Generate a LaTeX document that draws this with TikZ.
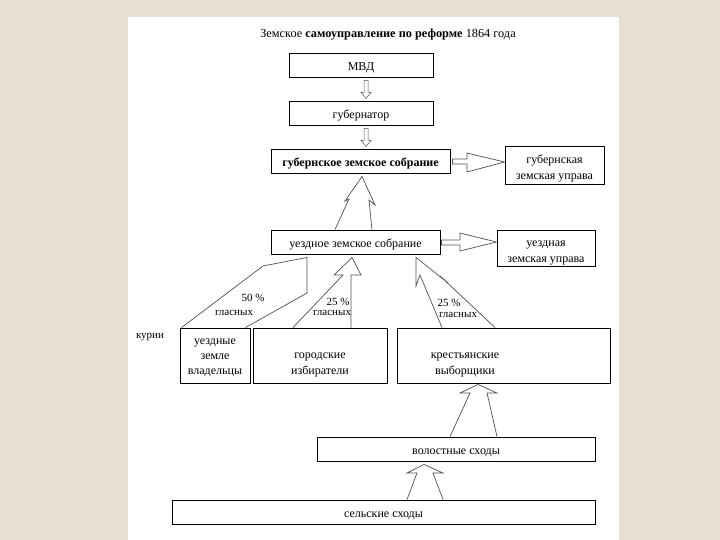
\documentclass[tikz,border=0pt]{standalone}
\usepackage{fontspec}
\setmainfont{Liberation Serif}
\usetikzlibrary{calc}
\definecolor{bgc}{HTML}{E6DFD2}
\definecolor{arr}{HTML}{505050}
\begin{document}
\begin{tikzpicture}[x=1pt,y=-1pt,
  box/.style={draw=black,line width=0.9pt,inner sep=0pt,align=center,text height=13pt,font=\fontsize{12}{16}\selectfont},
  txt/.style={inner sep=0pt,align=center,font=\fontsize{12}{16}\selectfont},
  lbl/.style={inner sep=0pt,font=\fontsize{11}{12}\selectfont},
  barrow/.style={draw=arr,line width=0.7pt,line join=miter}]
\useasboundingbox (0,0) rectangle (720,540);
\fill[bgc] (0,0) rectangle (720,540);
\fill[white] (128,17) rectangle (619,540);
% title
\node[inner sep=0pt,font=\fontsize{12.3}{14}\selectfont] (title) at (388,35) {Земское \textbf{самоуправление по реформе} 1864 года};
% boxes
\node[box,minimum width=144pt,minimum height=24pt] (mvd) at (361,65) {МВД};
\node[box,minimum width=144pt,minimum height=24pt] (gub) at (361,113) {губернатор};
\node[box,minimum width=179pt,minimum height=24pt,font=\fontsize{12}{16}\selectfont\bfseries] (gs) at (360.5,161) {губернское земское собрание};
\node[box,minimum width=99pt,minimum height=38pt] (gu) at (554.5,165) {};
\node[txt] (gut) at ($(gu.center)+(0,3.5)$) {губернская\\земская управа};
\node[box,minimum width=169pt,minimum height=24pt] (us) at (355.5,242) {уездное земское собрание};
\node[box,minimum width=98pt,minimum height=36pt] (uu) at (546,248) {};
\node[txt] (uut) at ($(uu.center)+(0,4.5)$) {уездная\\земская управа};
\node[box,minimum width=70pt,minimum height=55pt] (uz) at (215,355.5) {};
\node[txt,font=\fontsize{12}{15}\selectfont] (uzt) at ($(uz.center)+(0,2)$) {уездные\\земле\\владельцы};
\node[box,minimum width=134pt,minimum height=55pt] (gi) at (320,355.5) {};
\node[txt] (git) at (320,364.5) {городские\\избиратели};
\node[box,minimum width=213pt,minimum height=55pt] (kv) at (503.5,355.5) {};
\node[txt] (kvt) at (465,364.5) {крестьянские\\выборщики};
\node[box,minimum width=278pt,minimum height=24pt] (vs) at (456,449) {волостные сходы};
\node[box,minimum width=423pt,minimum height=24pt] (ss) at (383.5,512) {сельские сходы};
% small down arrows
\draw[barrow,line width=0.5pt] ($(mvd.south)+(3,3)$) -- ($(mvd.south)+(3,15)$) -- ($(mvd.south)+(0,15)$) -- ($(gub.north)+(5,-2)$) -- ($(mvd.south)+(10,15)$) -- ($(mvd.south)+(7,15)$) -- ($(mvd.south)+(7,3)$) -- cycle;
\draw[barrow,line width=0.5pt] ($(gub.south)+(3,3)$) -- ($(gub.south)+(3,15)$) -- ($(gub.south)+(0,15)$) -- ($(gs.north)+(5.5,-2)$) -- ($(gub.south)+(10,15)$) -- ($(gub.south)+(7,15)$) -- ($(gub.south)+(7,3)$) -- cycle;
% right block arrows
\draw[barrow] ($(gs.east)+(2,-2)$) -- (467,159) -- (467,153) -- ($(gu.west)+(0,-3)$) -- (467,172) -- (467,164) -- ($(gs.east)+(2,3)$) -- cycle;
\draw[barrow] ($(us.east)+(1,-2)$) -- (460,240) -- (460,233) -- ($(uu.west)+(0,-6)$) -- (460,251) -- (460,245) -- ($(us.east)+(1,3)$) -- cycle;
% up arrows
\draw[barrow] ($(us.north)+(-20.5,0)$) -- (349,199) -- (345,201) -- ($(gs.south)+(1.5,3)$) -- (375,205) -- (369,200) -- ($(us.north)+(16.5,0)$);
\draw[barrow] ($(uz.north west)+(2,0)$) -- (263,266) -- ($(us.south)+(-48.5,3)$) -- (307,293) -- ($(uz.north east)+(-5,0)$);
\draw[barrow] ($(gi.north)+(-27,0)$) -- (343,275) -- (334,275) -- ($(us.south)+(-3.5,3)$) -- (361,275) -- (351,275) -- ($(gi.north)+(31,0)$);
\draw[barrow] ($(kv.north)+(-61.5,0)$) -- (420,275) -- (416,286) -- ($(us.south)+(60.5,3)$) -- (448,283) -- (440,276) -- ($(kv.north)+(-8.5,0)$);
\draw[barrow] ($(vs.north)+(-6,0)$) -- (470,393) -- (460,393) -- ($(kv.south)+(-25.5,1)$) -- (497,393) -- (487,393) -- ($(vs.north)+(41,0)$);
\draw[barrow] ($(ss.north)+(23.5,0)$) -- (417,473) -- (407,473) -- ($(vs.south)+(-32,3)$) -- (443,473) -- (433,473) -- ($(ss.north)+(59.5,0)$);
% labels
\node[lbl,fill=white,inner sep=0.5pt] (kur) at (150,337) {курии};
\node[lbl] (p1) at (253,298) {50 \%};
\node[lbl] (g1) at (234,313) {гласных};
\node[lbl] (p2) at (338,302) {25 \%};
\node[lbl] (g2) at (332,313) {гласных};
\node[lbl] (p3) at (449,303) {25 \%};
\node[lbl] (g3) at (458,315) {гласных};
\end{tikzpicture}
\end{document}
